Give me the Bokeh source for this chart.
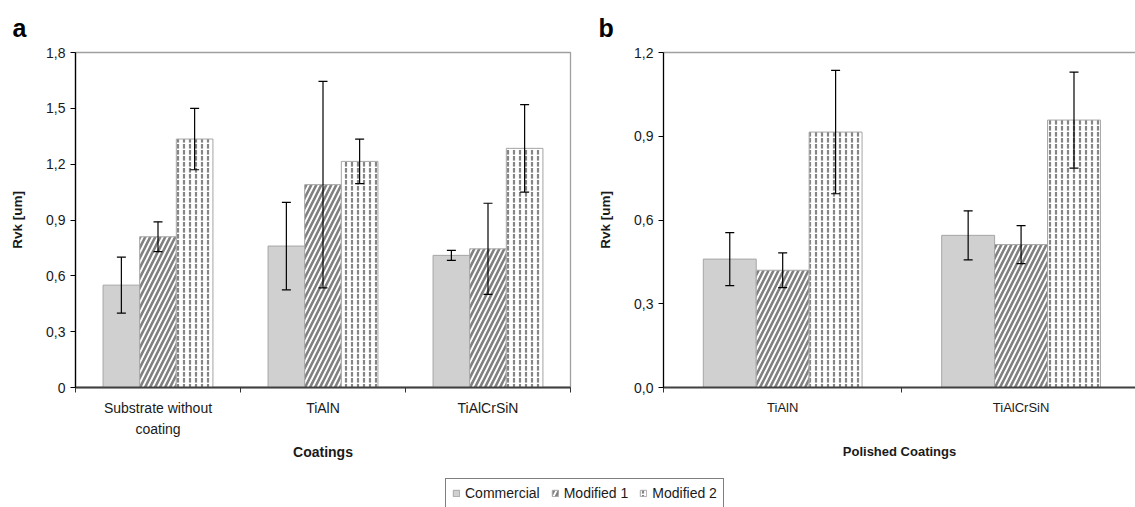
import numpy as np
from bokeh.plotting import figure
from bokeh.models import (ColumnDataSource, Whisker, TeeHead, FixedTicker, Range1d,
                          Legend, LegendItem, LinearAxis)
from bokeh.layouts import row, column
from bokeh.embed import file_html
from bokeh.resources import INLINE

series = ["Commercial", "Modified 1", "Modified 2"]

cats_a = ["Substrate without\ncoating", "TiAlN", "TiAlCrSiN"]
commercial_a = [0.55, 0.76, 0.71]
commercial_a_err = [0.15, 0.235, 0.027]
modified1_a = [0.81, 1.09, 0.745]
modified1_a_err = [0.08, 0.555, 0.245]
modified2_a = [1.335, 1.215, 1.285]
modified2_a_err = [0.165, 0.12, 0.235]

cats_b = ["TiAlN", "TiAlCrSiN"]
commercial_b = [0.46, 0.545]
commercial_b_err = [0.095, 0.088]
modified1_b = [0.42, 0.512]
modified1_b_err = [0.062, 0.068]
modified2_b = [0.915, 0.958]
modified2_b_err = [0.221, 0.172]

yticks_a = [0, 0.3, 0.6, 0.9, 1.2, 1.5, 1.8]
ylabels_a = ["0", "0,3", "0,6", "0,9", "1,2", "1,5", "1,8"]
yticks_b = [0, 0.3, 0.6, 0.9, 1.2]
ylabels_b = ["0,0", "0,3", "0,6", "0,9", "1,2"]

FONT = "Liberation Sans"
BAR_W = 0.222
OFFSETS = [-BAR_W, 0.0, BAR_W]
STYLES = [
    dict(fill_color="#d0d0d0", line_color="#a6a6a6"),
    dict(fill_color="white", line_color="#a6a6a6", hatch_pattern="/",
         hatch_color="#808080", hatch_weight=2.6, hatch_scale=10),
    dict(fill_color="white", line_color="#a6a6a6", hatch_pattern=":",
         hatch_color="#858585", hatch_weight=2.2, hatch_scale=6),
]


def make_panel(cats, vals, errs, yticks, ylabels, width, bl, br, x_end,
               letter, letter_off, xlabel, xfs, xstand, xlabel_standoff,
               outline=True):
    ymax = yticks[-1]
    p = figure(width=width, height=470, x_range=Range1d(-0.5, x_end),
               y_range=Range1d(0, ymax), output_backend="svg",
               toolbar_location=None, min_border_left=bl, min_border_right=br,
               min_border_top=51, min_border_bottom=83, title=letter)
    p.title.align = "left"
    p.title.offset = letter_off
    p.title.text_font = FONT
    p.title.text_font_size = "25px"
    p.title.text_font_style = "bold"
    p.title.text_color = "black"
    p.title.standoff = 22
    p.title.text_line_height = 1.0
    p.grid.visible = False

    n = len(cats)
    for i in range(3):
        v = np.array(vals[i], dtype=float)
        e = np.array(errs[i], dtype=float)
        src = ColumnDataSource(dict(x=np.arange(n) + OFFSETS[i], top=v,
                                    upper=v + e, lower=v - e))
        p.vbar(x="x", top="top", bottom=0, width=BAR_W, source=src,
               line_width=1, **STYLES[i])
        p.add_layout(Whisker(base="x", upper="upper", lower="lower", source=src,
                             level="overlay", line_color="black", line_width=1.2,
                             upper_head=TeeHead(size=9, line_color="black", line_width=1.2),
                             lower_head=TeeHead(size=9, line_color="black", line_width=1.2)))

    xa = p.below[0]
    xa.ticker = FixedTicker(ticks=list(range(n)),
                            minor_ticks=[-0.5 + k for k in range(n + 1)])
    xa.major_label_overrides = {i: c for i, c in enumerate(cats)}
    xa.major_tick_line_color = None
    xa.major_tick_out = 0
    xa.major_tick_in = 0
    xa.minor_tick_line_color = "#333333"
    xa.minor_tick_out = 5
    xa.minor_tick_in = 0
    xa.axis_line_color = "#404040"
    xa.axis_line_width = 2
    xa.major_label_text_font = FONT
    xa.major_label_text_font_size = xfs
    xa.major_label_text_color = "#1a1a1a"
    xa.major_label_standoff = xstand
    xa.major_label_text_line_height = 1.35
    xa.axis_label = xlabel
    xa.axis_label_text_font = FONT
    xa.axis_label_text_font_size = xfs
    xa.axis_label_text_font_style = "bold"
    xa.axis_label_text_color = "#1a1a1a"
    xa.axis_label_standoff = xlabel_standoff

    ya = p.left[0]
    ya.ticker = FixedTicker(ticks=yticks, minor_ticks=[])
    ya.major_label_overrides = dict(zip(yticks, ylabels))
    ya.major_tick_out = 5
    ya.major_tick_in = 0
    ya.major_tick_line_color = "black"
    ya.axis_line_color = "black"
    ya.axis_line_width = 1.3
    ya.major_label_text_font = FONT
    ya.major_label_text_font_size = "14px"
    ya.major_label_text_color = "#1a1a1a"
    ya.major_label_standoff = 5
    ya.axis_label = "Rvk [um]"
    ya.axis_label_text_font = FONT
    ya.axis_label_text_font_size = "13.5px"
    ya.axis_label_text_font_style = "bold"
    ya.axis_label_text_color = "#1a1a1a"
    ya.axis_label_standoff = 18

    if outline:
        p.outline_line_color = "#a0a0a0"
        p.outline_line_width = 1.3
    else:
        p.outline_line_color = None
        top = LinearAxis(ticker=FixedTicker(ticks=[], minor_ticks=[]),
                         axis_line_color="#a0a0a0", axis_line_width=1.3,
                         major_tick_line_color=None, minor_tick_line_color=None,
                         major_label_text_color=None, major_label_standoff=0,
                         major_tick_out=0, major_tick_in=0)
        p.add_layout(top, "above")
    return p


pa = make_panel(cats_a, [commercial_a, modified1_a, modified2_a],
                [commercial_a_err, modified1_a_err, modified2_a_err],
                yticks_a, ylabels_a, 590, 75, 20, 2.5, "a", -63, "Coatings",
                "14px", 7, 4)
pb = make_panel(cats_b, [commercial_b, modified1_b, modified2_b],
                [commercial_b_err, modified1_b_err, modified2_b_err],
                yticks_b, ylabels_b, 545, 73, 0, 1.48, "b", -65,
                "Polished Coatings", "13px", 7, 26, outline=False)

lf = figure(width=1135, height=37, x_range=Range1d(0, 1), y_range=Range1d(0, 1),
            toolbar_location=None, output_backend="svg", min_border=0,
            x_axis_type=None, y_axis_type=None)
lf.grid.visible = False
lf.outline_line_color = None
items = []
for i, s in enumerate(series):
    r = lf.vbar(x=[5], top=[1], width=0.5, line_width=1, **STYLES[i])
    items.append(LegendItem(label=s, renderers=[r]))
legend = Legend(items=items, orientation="horizontal", location=(445, -1),
                border_line_color="black", border_line_width=1,
                label_text_font=FONT, label_text_font_size="14px",
                label_text_color="#1a1a1a", glyph_width=8, glyph_height=8,
                label_standoff=5, spacing=11, padding=6, margin=0)
lf.add_layout(legend)

layout = column(row(pa, pb), lf)
open("out.html", "w").write(file_html(layout, INLINE))
